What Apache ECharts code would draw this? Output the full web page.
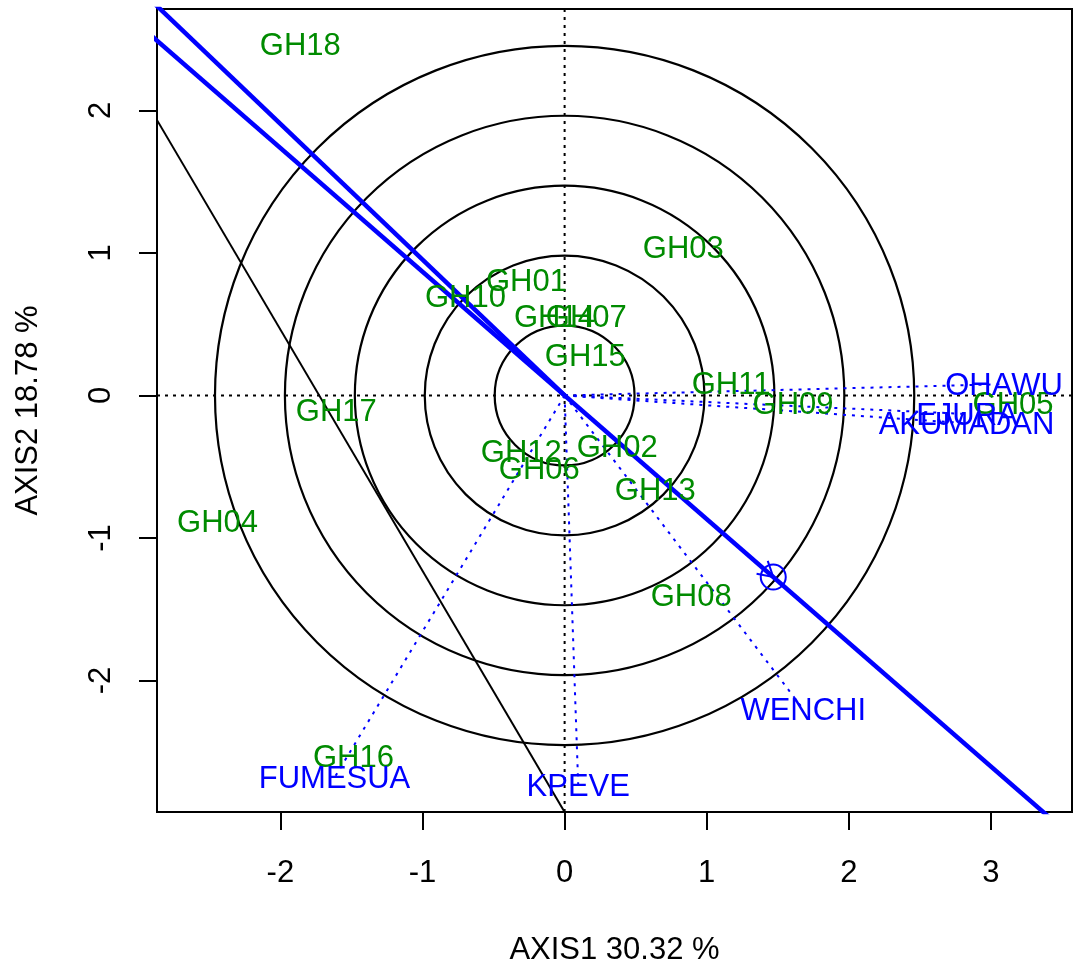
<!DOCTYPE html>
<html><head><meta charset="utf-8">
<script src="https://cdn.jsdelivr.net/npm/echarts@6/dist/echarts.min.js"></script>
<style>html,body{margin:0;padding:0;background:#fff}#c{width:1077px;height:967px}</style>
</head><body><div id="c"></div>
<script>
// ---- data ----
const genoNames = ['GH18','GH03','GH01','GH10','GH14','GH07','GH15','GH11','GH09','GH05','GH17','GH04','GH12','GH06','GH02','GH13','GH08','GH16'];
const genoX = [-1.860, 0.835, -0.269, -0.698, -0.072, 0.153, 0.146, 1.171, 1.607, 3.155, -1.606, -2.442, -0.305, -0.178, 0.370, 0.638, 0.891, -1.486];
const genoY = [2.460, 1.042, 0.804, 0.698, 0.551, 0.551, 0.284, 0.081, -0.053, -0.053, -0.102, -0.881, -0.396, -0.509, -0.361, -0.663, -1.400, -2.530];
const envNames = ['OHAWU','EJURA','AKUMADAN','WENCHI','KPEVE','FUMESUA'];
const envX = [3.092, 2.831, 2.828, 1.679, 0.096, -1.619];
const envY = [0.079, -0.130, -0.195, -2.202, -2.740, -2.682];
const circleRadii = [0.492, 0.984, 1.476, 1.968, 2.460];
const aeaPoint = [1.468, -1.274];
const aeaAxisLine = [[-3.0, 2.604], [3.6, -3.125]];
const secondBlueLine = [[0, 0], [-3.0, 2.859]];
const blackLine = [[-3.0, 2.156], [0.2, -3.262]];
const xTicks = [-2, -1, 0, 1, 2, 3];
const yTicks = [-2, -1, 0, 1, 2];
const xTitle = 'AXIS1 30.32 %';
const yTitle = 'AXIS2 18.78 %';
const xRange = [-2.868, 3.570];
const yRange = [-2.923, 2.712];

// ---- styling ----
const FONT = '"Liberation Sans", Arial, Helvetica, sans-serif';
const FS = 31;
const GREEN = '#008B00';
const BLUE = '#0000FF';
const TEXT_DY = 2;

const chart = echarts.init(document.getElementById('c'), null, {renderer: 'canvas'});

const txt = {color: '#000', fontSize: FS, fontFamily: FONT};

function textSeries(names, xs, ys, color, z) {
  return {
    type: 'custom', z: z, silent: true,
    data: names.map((n, i) => [xs[i], ys[i], n]),
    renderItem: function (params, api) {
      const p = api.coord([api.value(0), api.value(1)]);
      return {type: 'text', x: p[0], y: p[1] + TEXT_DY,
        style: {text: names[params.dataIndex], fill: color, font: FS + 'px ' + FONT, align: 'center', verticalAlign: 'middle'}};
    }
  };
}

const option = {
  animation: false,
  backgroundColor: '#fff',
  grid: {left: 157, right: 5, top: 9, bottom: 155, show: true, borderColor: '#000', borderWidth: 2,
    backgroundColor: 'transparent', containLabel: false, outerBoundsMode: 'none'},
  xAxis: {
    type: 'value', min: xRange[0], max: xRange[1],
    axisLine: {show: false, onZero: false},
    splitLine: {show: false},
    axisTick: {show: true, length: 18, customValues: xTicks, lineStyle: {color: '#000', width: 2}},
    axisLabel: Object.assign({customValues: xTicks, margin: 46}, txt),
    name: xTitle, nameLocation: 'middle', nameGap: 123, nameTextStyle: txt
  },
  yAxis: {
    type: 'value', min: yRange[0], max: yRange[1],
    axisLine: {show: false, onZero: false},
    splitLine: {show: false},
    axisTick: {show: true, length: 18, customValues: yTicks, lineStyle: {color: '#000', width: 2}},
    axisLabel: Object.assign({customValues: yTicks, margin: 40, rotate: 90}, txt),
    name: yTitle, nameLocation: 'middle', nameGap: 113, nameTextStyle: txt
  },
  series: [
    // dotted cross-hairs
    {type: 'line', data: [[xRange[0], 0], [xRange[1], 0]], symbol: 'none', silent: true, z: 1,
      lineStyle: {color: '#000', width: 2, type: [3, 5]}},
    {type: 'line', data: [[0, yRange[0]], [0, yRange[1]]], symbol: 'none', silent: true, z: 1,
      lineStyle: {color: '#000', width: 2, type: [3, 5]}},
    // concentric circles
    {type: 'custom', z: 2, silent: true, data: circleRadii.map(r => [r]),
      renderItem: function (params, api) {
        const c = api.coord([0, 0]);
        const r = api.size([api.value(0), 0])[0];
        return {type: 'circle', shape: {cx: c[0], cy: c[1], r: r}, style: {fill: null, stroke: '#000', lineWidth: 2.2}};
      }},
    // environment vectors (dotted)
    {type: 'custom', z: 3, silent: true, data: envNames.map((n, i) => [envX[i], envY[i]]),
      renderItem: function (params, api) {
        const o = api.coord([0, 0]);
        const p = api.coord([api.value(0), api.value(1)]);
        return {type: 'line', shape: {x1: o[0], y1: o[1], x2: p[0], y2: p[1]},
          style: {stroke: BLUE, lineWidth: 2, lineDash: [3, 6]}};
      }},
    // black thin line
    {type: 'line', data: blackLine, symbol: 'none', silent: true, z: 4, clip: true,
      lineStyle: {color: '#000', width: 2}},
    // blue lines
    {type: 'line', data: aeaAxisLine, symbol: 'none', silent: true, z: 5, clip: true,
      lineStyle: {color: BLUE, width: 4.5}},
    {type: 'line', data: secondBlueLine, symbol: 'none', silent: true, z: 5, clip: true,
      lineStyle: {color: BLUE, width: 4.5}},
    // AEA marker: circle + arrow head
    {type: 'custom', z: 6, silent: true, data: [aeaPoint],
      renderItem: function (params, api) {
        const o = api.coord([0, 0]);
        const p = api.coord([api.value(0), api.value(1)]);
        const ang = Math.atan2(o[1] - p[1], o[0] - p[0]);
        const L = 17, a = Math.PI / 6;
        const q1 = [p[0] + L * Math.cos(ang + a), p[1] + L * Math.sin(ang + a)];
        const q2 = [p[0] + L * Math.cos(ang - a), p[1] + L * Math.sin(ang - a)];
        return {type: 'group', children: [
          {type: 'circle', shape: {cx: p[0], cy: p[1], r: 12.5}, style: {fill: null, stroke: BLUE, lineWidth: 2}},
          {type: 'polyline', shape: {points: [q1, p, q2]}, style: {fill: null, stroke: BLUE, lineWidth: 2}}
        ]};
      }},
    textSeries(genoNames, genoX, genoY, GREEN, 7),
    textSeries(envNames, envX, envY, BLUE, 8)
  ]
};
chart.setOption(option);
</script>
</body></html>
